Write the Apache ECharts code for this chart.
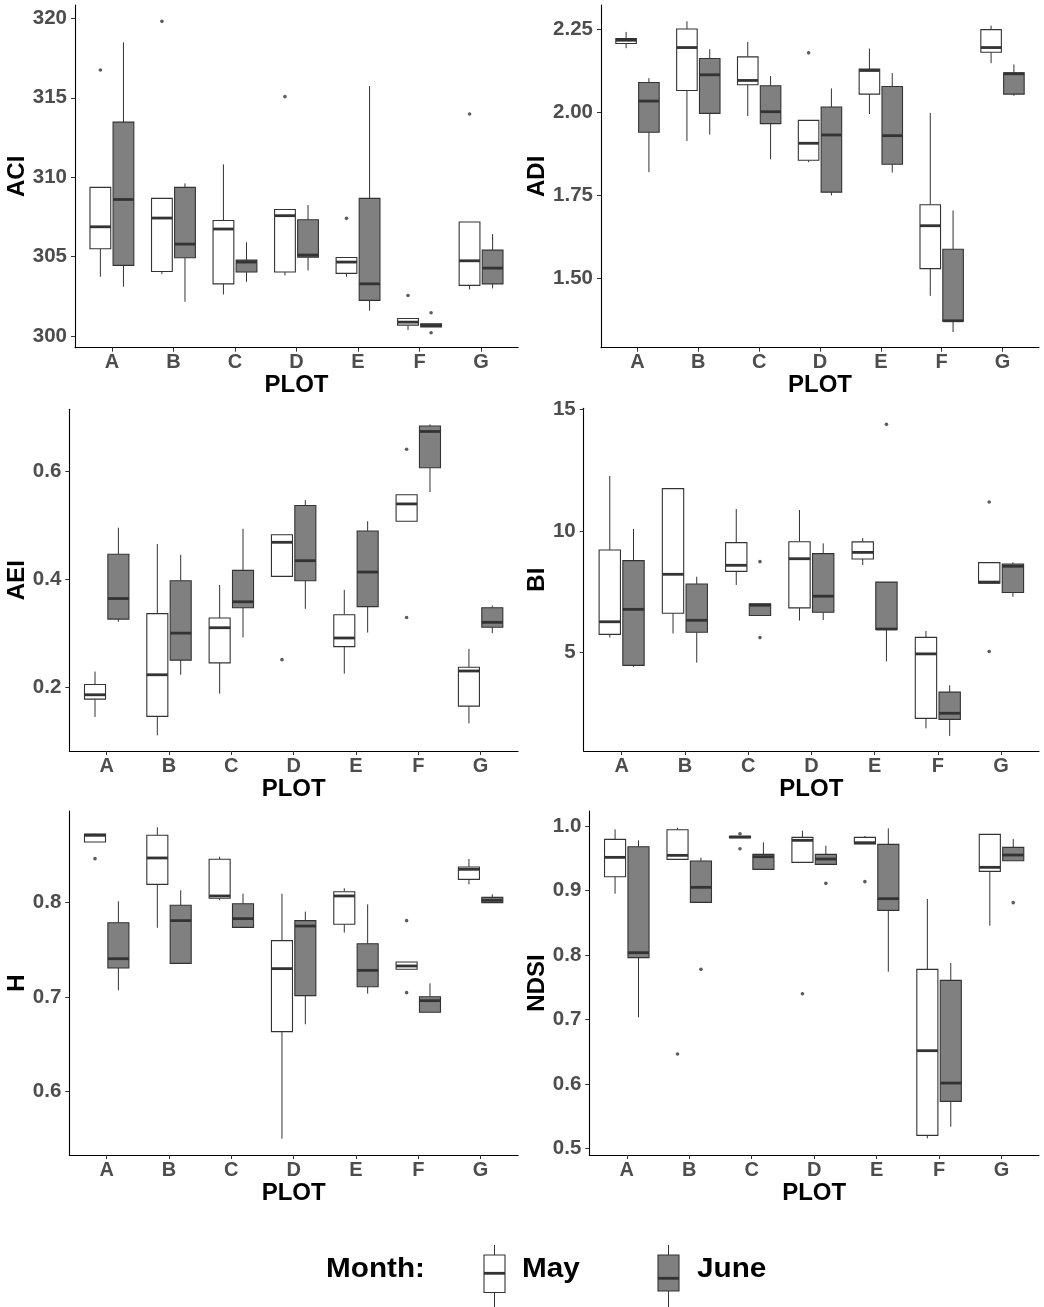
<!DOCTYPE html>
<html><head><meta charset="utf-8">
<script src="https://cdn.jsdelivr.net/npm/echarts@6/dist/echarts.min.js"></script>
<style>html,body{margin:0;padding:0;background:#fff}#c{width:1044px;height:1307px}</style>
</head><body><div id="c"></div>
<script>
const plots = ['A','B','C','D','E','F','G'];
const months = ['May','June'];
// each row: [min, Q1, median, Q3, max] per plot A..G
const aciMay = [[303.74,305.50,306.88,309.36,309.36],[303.90,304.07,307.43,308.67,308.67],[302.62,303.29,306.74,307.28,310.81],[303.82,304.03,307.58,307.97,307.97],[303.74,303.95,304.66,304.95,304.95],[300.38,300.69,300.88,301.11,301.11],[302.94,303.19,304.74,307.18,307.18]];
const aciJune = [[303.11,304.45,308.60,313.47,318.49],[302.16,304.93,305.79,309.36,309.61],[303.42,304.03,304.66,304.78,305.90],[304.13,304.97,305.10,307.32,308.25],[301.60,302.25,303.29,308.67,315.74],[300.57,300.57,300.67,300.78,300.78],[303.00,303.29,304.28,305.41,306.42]];
const aciMayOut = [[0,316.75],[1,319.81],[3,315.07],[4,307.41],[5,302.56],[6,313.98]];
const aciJuneOut = [[5,301.47],[5,300.21]];
const aciTicks = [300,305,310,315,320];

const adiMay = [[2.192,2.206,2.216,2.221,2.241],[1.913,2.065,2.194,2.250,2.273],[1.988,2.082,2.095,2.166,2.211],[1.849,1.855,1.906,1.975,1.975],[1.994,2.054,2.125,2.129,2.191],[1.447,1.529,1.658,1.721,1.997],[2.147,2.180,2.194,2.248,2.260]];
const adiJune = [[1.819,1.939,2.033,2.089,2.102],[1.932,1.996,2.112,2.161,2.189],[1.858,1.965,2.001,2.079,2.108],[1.749,1.759,1.931,2.015,2.071],[1.818,1.843,1.929,2.077,2.117],[1.338,1.371,1.372,1.587,1.704],[2.049,2.054,2.115,2.118,2.143]];
const adiMayOut = [[3,2.178]];
const adiJuneOut = [];
const adiTicks = [1.50,1.75,2.00,2.25];

const aeiMay = [[0.145,0.178,0.186,0.205,0.229],[0.111,0.146,0.223,0.336,0.465],[0.188,0.245,0.310,0.328,0.389],[0.405,0.405,0.468,0.482,0.482],[0.225,0.275,0.291,0.334,0.380],[0.507,0.507,0.539,0.556,0.556],[0.133,0.165,0.230,0.237,0.271]];
const aeiJune = [[0.321,0.326,0.364,0.446,0.495],[0.223,0.250,0.300,0.397,0.445],[0.292,0.347,0.358,0.416,0.493],[0.345,0.397,0.434,0.536,0.546],[0.301,0.349,0.413,0.489,0.507],[0.561,0.606,0.673,0.683,0.686],[0.300,0.311,0.320,0.347,0.351]];
const aeiMayOut = [[3,0.251],[5,0.640],[5,0.329]];
const aeiJuneOut = [];
const aeiTicks = [0.2,0.4,0.6];

const biMay = [[5.62,5.75,6.27,9.22,12.26],[5.79,6.62,8.22,11.74,11.74],[7.78,8.34,8.59,9.52,10.90],[6.32,6.84,8.86,9.56,10.86],[8.60,8.85,9.12,9.55,9.71],[1.89,2.30,4.95,5.63,5.89],[7.85,7.85,7.90,8.70,8.70]];
const biJune = [[4.42,4.48,6.78,8.78,10.08],[4.59,5.84,6.33,7.82,8.12],[6.53,6.53,6.95,7.01,7.01],[6.34,6.66,7.32,9.07,9.49],[4.64,5.95,5.97,7.90,7.90],[1.58,2.26,2.51,3.38,3.66],[7.30,7.47,8.55,8.64,8.71]];
const biMayOut = [[6,11.19],[6,5.05]];
const biJuneOut = [[2,8.74],[2,5.62],[4,14.38]];
const biTicks = [5,10,15];

const hMay = [[0.8642,0.8642,0.8713,0.8727,0.8730],[0.7735,0.8194,0.8473,0.8713,0.8797],[0.8025,0.8046,0.8071,0.8459,0.8487],[0.5503,0.6635,0.7302,0.7598,0.8095],[0.7683,0.7771,0.8071,0.8116,0.8152],[0.7295,0.7295,0.7330,0.7372,0.7372],[0.8194,0.8247,0.8353,0.8377,0.8462]];
const hJune = [[0.7072,0.7309,0.7407,0.7788,0.8014],[0.7358,0.7358,0.7810,0.7972,0.8131],[0.7739,0.7739,0.7831,0.7989,0.8095],[0.6713,0.7016,0.7753,0.7810,0.7905],[0.7037,0.7111,0.7284,0.7566,0.7982],[0.6840,0.6840,0.6963,0.7005,0.7146],[0.8000,0.8000,0.8025,0.8056,0.8088]];
const hMayOut = [[0,0.8466],[5,0.7810],[5,0.7048]];
const hJuneOut = [];
const hTicks = [0.6,0.7,0.8];

const ndsiMay = [[0.8950,0.9214,0.9514,0.9793,0.9948],[0.9483,0.9483,0.9545,0.9943,0.9974],[0.9819,0.9819,0.9829,0.9840,0.9840],[0.9436,0.9436,0.9778,0.9824,0.9928],[0.9721,0.9721,0.9741,0.9824,0.9845],[0.5155,0.5202,0.6515,0.7777,0.8868],[0.8454,0.9297,0.9359,0.9871,0.9871]];
const ndsiJune = [[0.7032,0.7958,0.8035,0.9679,0.9778],[0.8816,0.8816,0.9049,0.9457,0.9509],[0.9328,0.9328,0.9524,0.9560,0.9747],[0.9405,0.9405,0.9488,0.9560,0.9695],[0.7740,0.8692,0.8873,0.9716,0.9964],[0.5336,0.5729,0.6013,0.7606,0.7875],[0.9462,0.9462,0.9550,0.9669,0.9798]];
const ndsiMayOut = [[1,0.6463],[2,0.9881],[2,0.9648],[3,0.7399],[4,0.9137]];
const ndsiJuneOut = [[1,0.7777],[3,0.9111],[6,0.8811]];
const ndsiTicks = [0.5,0.6,0.7,0.8,0.9,1.0];

const FONT = '"Liberation Sans", Arial, sans-serif';
const DODGE = 0.1875, BOX_W = 0.3375;
const FILLS = ['#ffffff', '#808080'];
const INK = '#333333';

const panels = [
  {title:'ACI', may:aciMay, june:aciJune, mayOut:aciMayOut, juneOut:aciJuneOut, ticks:aciTicks, dec:0, min:299.27, max:320.84, grid:{left:75, top:5, width:443, height:342.7}, nameGap:41},
  {title:'ADI', may:adiMay, june:adiJune, mayOut:adiMayOut, juneOut:adiJuneOut, ticks:adiTicks, dec:2, min:1.291, max:2.322, grid:{left:601, top:5, width:438, height:342.7}, nameGap:47},
  {title:'AEI', may:aeiMay, june:aeiJune, mayOut:aeiMayOut, juneOut:aeiJuneOut, ticks:aeiTicks, dec:1, min:0.082, max:0.714, grid:{left:69.3, top:409.3, width:448.7, height:341.7}, nameGap:35},
  {title:'BI', may:biMay, june:biJune, mayOut:biMayOut, juneOut:biJuneOut, ticks:biTicks, dec:0, min:0.96, max:15.04, grid:{left:583.7, top:408.3, width:455.3, height:342.7}, nameGap:31},
  {title:'H', may:hMay, june:hJune, mayOut:hMayOut, juneOut:hJuneOut, ticks:hTicks, dec:1, min:0.533, max:0.897, grid:{left:69.3, top:811, width:448.7, height:344}, nameGap:36},
  {title:'NDSI', may:ndsiMay, june:ndsiJune, mayOut:ndsiMayOut, juneOut:ndsiJuneOut, ticks:ndsiTicks, dec:1, min:0.4897, max:1.0233, grid:{left:589.3, top:811, width:449.7, height:344}, nameGap:35}
];

function makeRender(offset, fill) {
  return function (params, api) {
    const x = api.value(0) + offset;
    const lo = api.coord([x, api.value(1)]);
    const q1 = api.coord([x, api.value(2)]);
    const md = api.coord([x, api.value(3)]);
    const q3 = api.coord([x, api.value(4)]);
    const hi = api.coord([x, api.value(5)]);
    const w = api.size([BOX_W, 0])[0];
    const cx = lo[0], left = cx - w / 2;
    return {type:'group', children:[
      {type:'line', shape:{x1:cx, y1:q1[1], x2:cx, y2:lo[1]}, style:{stroke:INK, lineWidth:1}},
      {type:'line', shape:{x1:cx, y1:q3[1], x2:cx, y2:hi[1]}, style:{stroke:INK, lineWidth:1}},
      {type:'rect', shape:{x:left, y:q3[1], width:w, height:q1[1]-q3[1]}, style:{fill:fill, stroke:INK, lineWidth:1.1}},
      {type:'line', shape:{x1:left, y1:md[1], x2:left+w, y2:md[1]}, style:{stroke:INK, lineWidth:2.8}}
    ]};
  };
}

const plotIdx = plots.map((p, i) => i);
const grids = [], xAxes = [], yAxes = [], series = [];
panels.forEach((p, k) => {
  grids.push(Object.assign({containLabel:false}, p.grid));
  xAxes.push({
    type:'value', gridIndex:k, min:-0.6, max:6.6,
    name:'PLOT', nameLocation:'middle', nameGap:25,
    nameTextStyle:{fontFamily:FONT, fontSize:24, fontWeight:'bold', color:'#000'},
    axisLine:{show:true, onZero:false, lineStyle:{color:'#000', width:1.1}},
    axisTick:{show:true, length:4, customValues:plotIdx, lineStyle:{color:INK}},
    axisLabel:{customValues:plotIdx, margin:5, formatter:v => plots[Math.round(v)], fontFamily:FONT, fontSize:20, fontWeight:'bold', color:'#4d4d4d'},
    splitLine:{show:false}
  });
  yAxes.push({
    type:'value', gridIndex:k, min:p.min, max:p.max,
    name:p.title, nameLocation:'middle', nameGap:p.nameGap,
    nameTextStyle:{fontFamily:FONT, fontSize:24, fontWeight:'bold', color:'#000'},
    axisLine:{show:true, onZero:false, lineStyle:{color:'#000', width:1.1}},
    axisTick:{show:true, length:4, customValues:p.ticks, lineStyle:{color:INK}},
    axisLabel:{customValues:p.ticks, margin:8, formatter:v => Number(v).toFixed(p.dec), fontFamily:FONT, fontSize:20.5, fontWeight:'bold', color:'#4d4d4d'},
    splitLine:{show:false}
  });
  [[p.may, p.mayOut, -DODGE, 0], [p.june, p.juneOut, DODGE, 1]].forEach(([boxes, outs, off, m]) => {
    series.push({
      type:'custom', name:months[m], xAxisIndex:k, yAxisIndex:k,
      renderItem:makeRender(off, FILLS[m]),
      encode:{x:0, y:[1,2,3,4,5]},
      data:boxes.map((d, i) => [i].concat(d)),
      silent:true, clip:false
    });
    series.push({
      type:'scatter', name:months[m] + ' outliers', xAxisIndex:k, yAxisIndex:k,
      symbolSize:3.6, itemStyle:{color:INK},
      data:outs.map(([c, v]) => [c + off, v]),
      silent:true
    });
  });
});

function legendIcon(x, fill, boxTop, boxBot, med) {
  const cx = x + 10.5;
  return [
    {type:'line', shape:{x1:cx, y1:1245, x2:cx, y2:boxTop}, style:{stroke:INK, lineWidth:1}},
    {type:'line', shape:{x1:cx, y1:boxBot, x2:cx, y2:1307}, style:{stroke:INK, lineWidth:1}},
    {type:'rect', shape:{x:x, y:boxTop, width:21, height:boxBot-boxTop}, style:{fill:fill, stroke:INK, lineWidth:1.1}},
    {type:'line', shape:{x1:x, y1:med, x2:x+21, y2:med}, style:{stroke:INK, lineWidth:2.8}}
  ];
}

function legendText(txt, x) {
  return {type:'text', x:x, y:1256, scaleX:1.1, style:{text:txt, font:'bold 27px ' + FONT, fill:'#000', textVerticalAlign:'top'}};
}

const graphic = [legendText('Month:', 326), legendText(months[0], 522), legendText(months[1], 697)]
  .concat(legendIcon(484, FILLS[0], 1255, 1292.5, 1273.3), legendIcon(658, FILLS[1], 1255, 1291, 1278.3));

const chart = echarts.init(document.getElementById('c'), null, {renderer:'canvas'});
chart.setOption({
  animation:false, backgroundColor:'#ffffff',
  grid:grids, xAxis:xAxes, yAxis:yAxes, series:series, graphic:graphic
});
</script></body></html>
